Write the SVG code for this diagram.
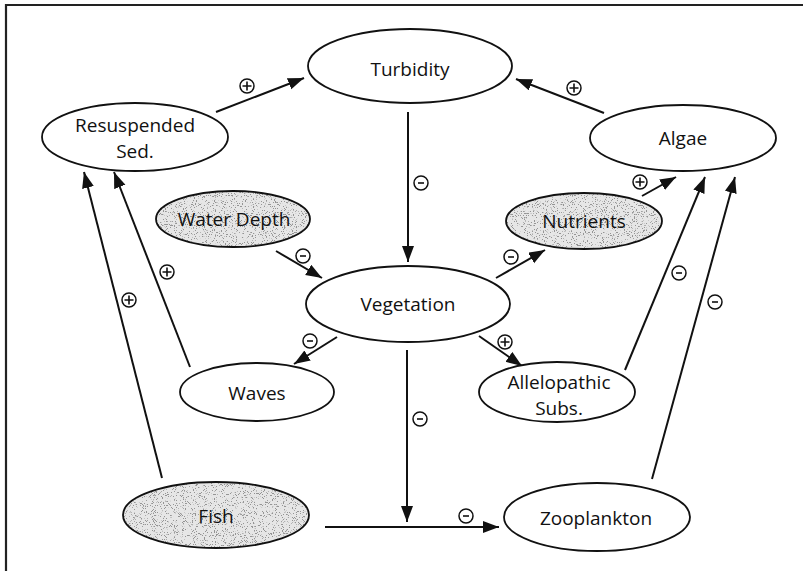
<svg xmlns="http://www.w3.org/2000/svg" width="803" height="571" viewBox="0 0 803 571">
<style>
.n{fill:#fff;stroke:#111;stroke-width:1.8}
.sh{fill:#e6e6e6;stroke:none}
.st{fill:#000;stroke:none}
.o{fill:none;stroke:#111;stroke-width:1.8}
.t{font-family:"Open Sans","Noto Sans",sans-serif;font-size:19px;fill:#111;text-anchor:middle}
.c{fill:none;stroke:#111;stroke-width:2}
.s circle{fill:#fff;stroke:#111;stroke-width:1.5}
.s path{stroke:#111;stroke-width:1.6;fill:none}
</style>
<defs>
<marker id="ah" markerUnits="userSpaceOnUse" markerWidth="18" markerHeight="14" refX="16" refY="6" orient="auto">
<path d="M0,0 L16,6 L0,12 Z" fill="#111"/>
</marker>
<filter id="stip" x="0" y="0" width="100%" height="100%">
<feTurbulence type="fractalNoise" baseFrequency="0.9" numOctaves="2" seed="7" result="n"/>
<feColorMatrix in="n" type="matrix" values="0 0 0 0 0.3  0 0 0 0 0.3  0 0 0 0 0.3  -14 0 0 0 5.6" result="d"/>
<feComposite in="d" in2="SourceGraphic" operator="in"/>
</filter>
<g id="plus" class="s"><circle r="7"/><path d="M-4.5,0 H4.5 M0,-4.5 V4.5"/></g>
<g id="minus" class="s"><circle r="7"/><path d="M-3,0 H3"/></g>
</defs>
<rect width="803" height="571" fill="#fff"/>
<path d="M6,571 V5 H803" fill="none" stroke="#222" stroke-width="2.2"/>

<g id="connectors">
<path class="c" d="M216,112 L304,78" marker-end="url(#ah)"/>
<path class="c" d="M604,113 L516,79" marker-end="url(#ah)"/>
<path class="c" d="M408,112 V262" marker-end="url(#ah)"/>
<path class="c" d="M276,251 L322,278" marker-end="url(#ah)"/>
<path class="c" d="M337,337 L294,364" marker-end="url(#ah)"/>
<path class="c" d="M496,278 L545,250" marker-end="url(#ah)"/>
<path class="c" d="M479,336 L522,366" marker-end="url(#ah)"/>
<path class="c" d="M407,350 V522" marker-end="url(#ah)"/>
<path class="c" d="M325,527 H499" marker-end="url(#ah)"/>
<path class="c" d="M162,478 L84,172" marker-end="url(#ah)"/>
<path class="c" d="M190,367 L114,172" marker-end="url(#ah)"/>
<path class="c" d="M642,196 L676,177" marker-end="url(#ah)"/>
<path class="c" d="M625,370 L705,177" marker-end="url(#ah)"/>
<path class="c" d="M652,479 L735,177" marker-end="url(#ah)"/>
<use href="#plus" x="247" y="86"/>
<use href="#plus" x="574" y="88"/>
<use href="#minus" x="421" y="183"/>
<use href="#minus" x="303" y="256"/>
<use href="#minus" x="310" y="341"/>
<use href="#minus" x="511" y="257"/>
<use href="#plus" x="505" y="342"/>
<use href="#minus" x="420" y="419"/>
<use href="#minus" x="466" y="516"/>
<use href="#plus" x="129" y="300"/>
<use href="#plus" x="167" y="272"/>
<use href="#plus" x="640" y="182"/>
<use href="#minus" x="679" y="273"/>
<use href="#minus" x="715" y="302"/>
</g>

<g id="turbidity">
<ellipse class="n" cx="410" cy="66" rx="102" ry="37"/>
<text class="t" x="410" y="76">Turbidity</text>
</g>
<g id="resuspended">
<ellipse class="n" cx="135" cy="137" rx="93" ry="34"/>
<text class="t" x="135" y="132">Resuspended</text>
<text class="t" x="135" y="158">Sed.</text>
</g>
<g id="algae">
<ellipse class="n" cx="683" cy="138" rx="93" ry="33"/>
<text class="t" x="683" y="145">Algae</text>
</g>
<g id="waterdepth">
<ellipse class="sh" cx="233" cy="219" rx="77" ry="28"/>
<ellipse class="st" cx="233" cy="219" rx="77" ry="28" filter="url(#stip)"/>
<ellipse class="o" cx="233" cy="219" rx="77" ry="28"/>
<text class="t" x="234" y="226">Water Depth</text>
</g>
<g id="vegetation">
<ellipse class="n" cx="408" cy="304" rx="102" ry="38"/>
<text class="t" x="408" y="311">Vegetation</text>
</g>
<g id="nutrients">
<ellipse class="sh" cx="584" cy="221" rx="78" ry="28"/>
<ellipse class="st" cx="584" cy="221" rx="78" ry="28" filter="url(#stip)"/>
<ellipse class="o" cx="584" cy="221" rx="78" ry="28"/>
<text class="t" x="584" y="228">Nutrients</text>
</g>
<g id="waves">
<ellipse class="n" cx="257" cy="392" rx="77" ry="29"/>
<text class="t" x="257" y="400">Waves</text>
</g>
<g id="allelopathic">
<ellipse class="n" cx="557" cy="392" rx="78" ry="30"/>
<text class="t" x="559" y="389">Allelopathic</text>
<text class="t" x="559" y="415">Subs.</text>
</g>
<g id="fish">
<ellipse class="sh" cx="216" cy="515" rx="93" ry="33"/>
<ellipse class="st" cx="216" cy="515" rx="93" ry="33" filter="url(#stip)"/>
<ellipse class="o" cx="216" cy="515" rx="93" ry="33"/>
<text class="t" x="216" y="523">Fish</text>
</g>
<g id="zooplankton">
<ellipse class="n" cx="597" cy="517" rx="93" ry="34"/>
<text class="t" x="596" y="525">Zooplankton</text>
</g>
</svg>
